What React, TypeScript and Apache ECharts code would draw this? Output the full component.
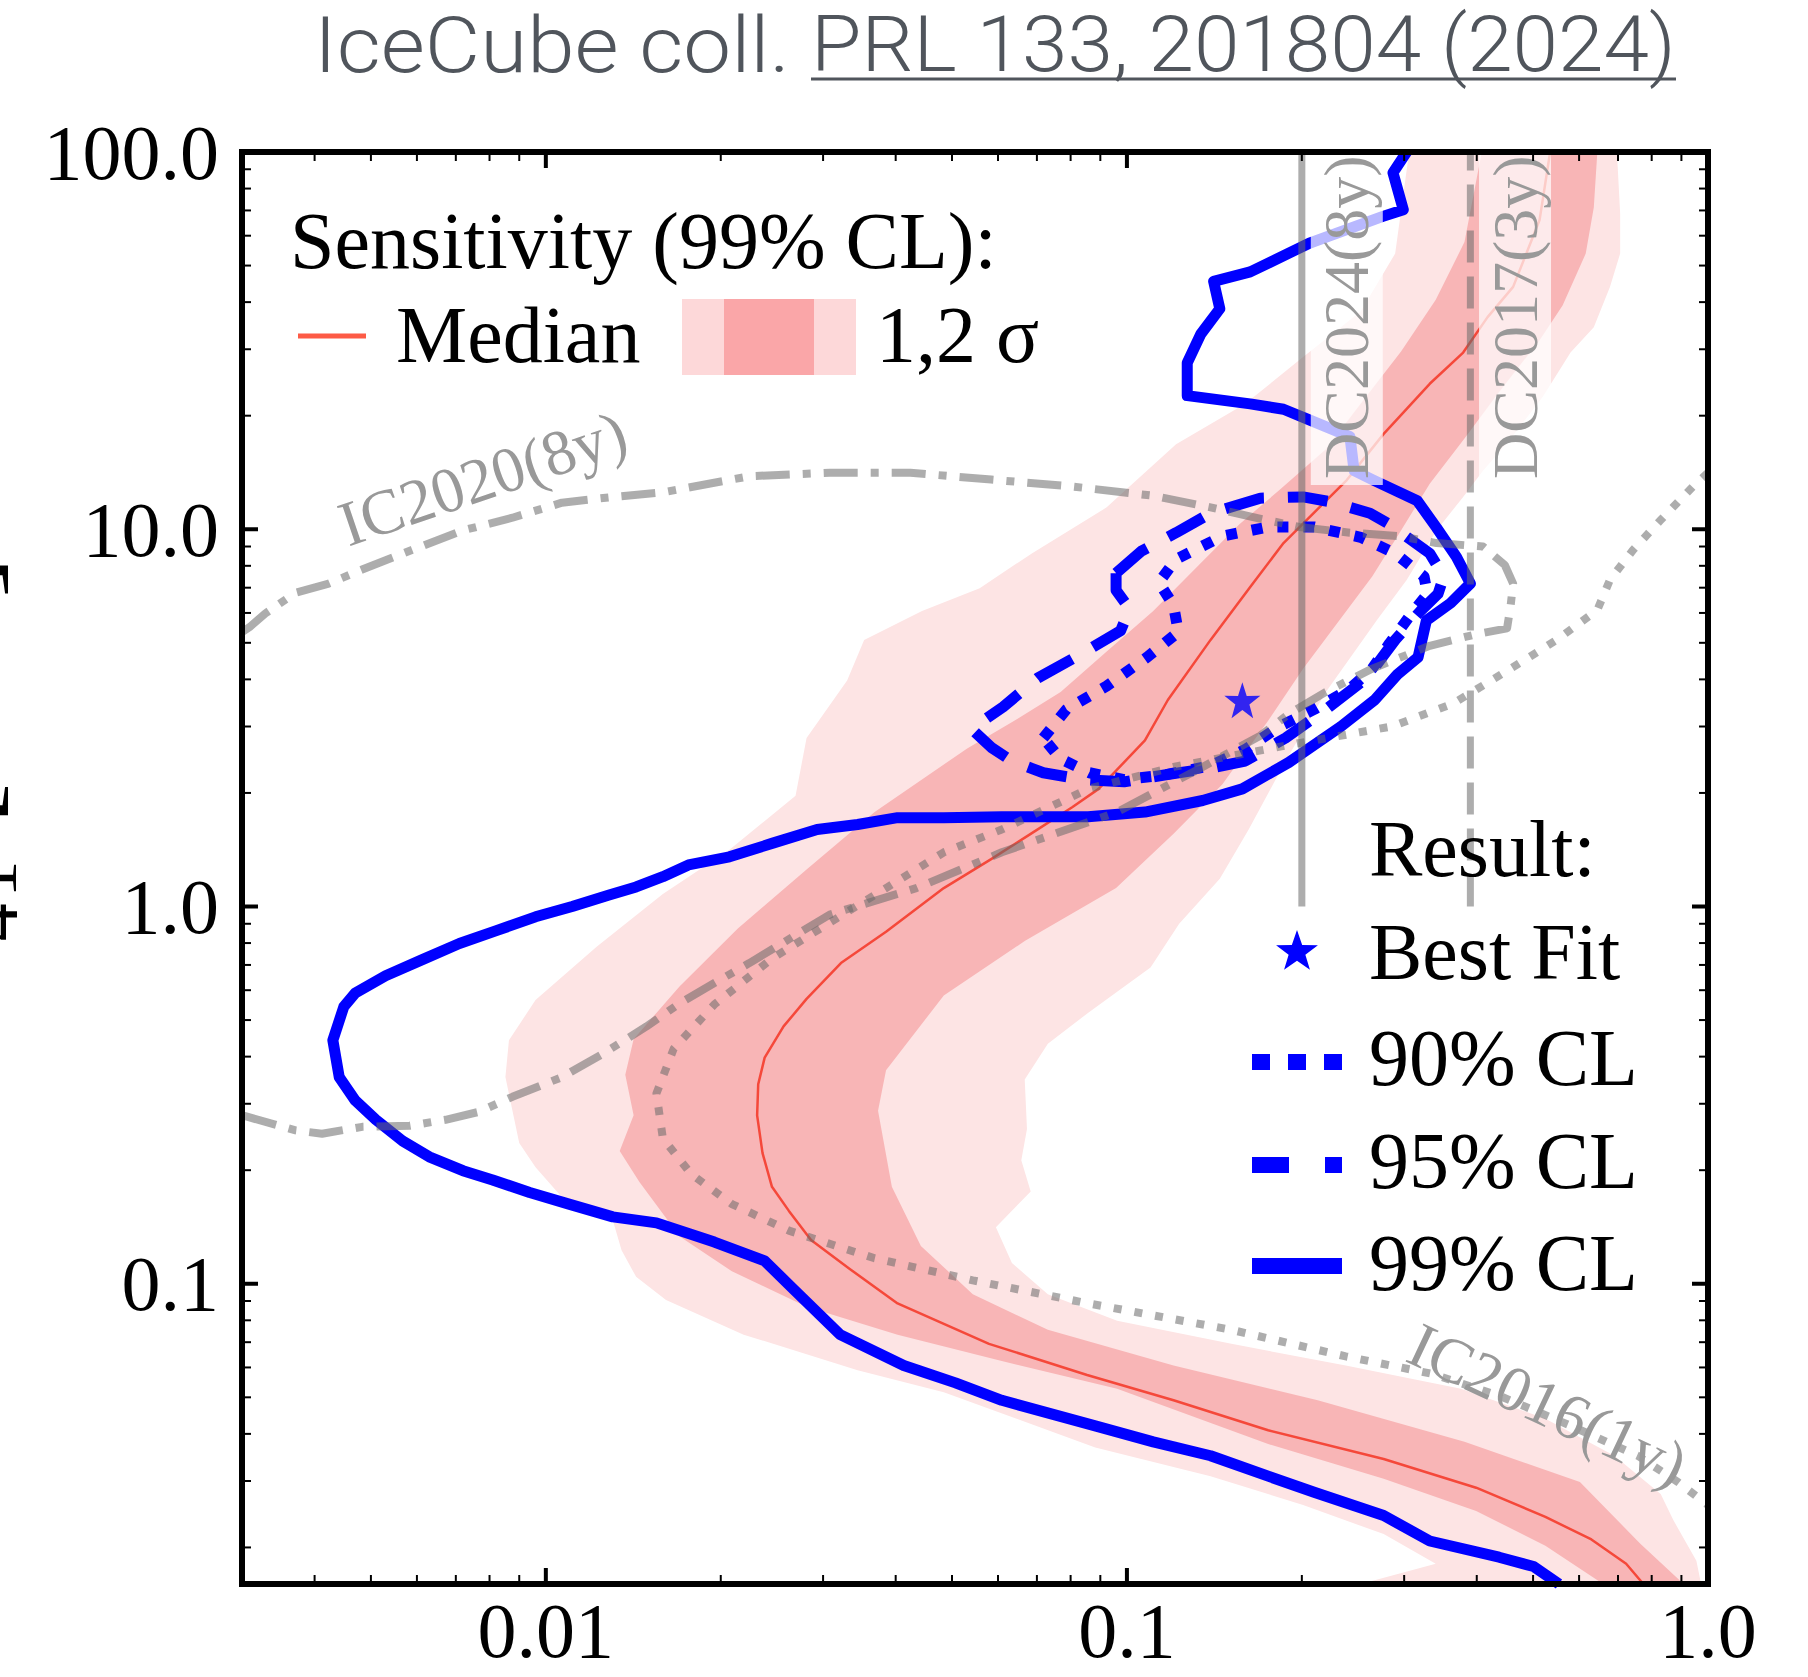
import React, { useEffect, useRef } from "react";
import * as echarts from "echarts";

const CANVAS_W = 1808;
const CANVAS_H = 1677;
const GRID = { left: 242, top: 152, width: 1466, height: 1432 };

// axis ranges and tick labels
const X_RANGE = [0.003, 1];
const Y_RANGE = [0.016, 100];
const X_MAJOR = [0.01, 0.1, 1];
const X_MAJOR_LABELS = ["0.01", "0.1", "1.0"];
const Y_MAJOR = [0.1, 1, 10, 100];
const Y_MAJOR_LABELS = ["0.1", "1.0", "10.0", "100.0"];

// Result contours  [x, dm2 y]
const cl99 = [
  [0.303, 100], [0.287, 88.1], [0.299, 70.3], [0.275, 67.4], [0.206, 57.3], [0.163, 48.1], [0.141, 45.4],
  [0.1445, 38.4], [0.134, 32.9], [0.127, 27.6], [0.127, 22.6], [0.163, 21.5], [0.186, 20.8], [0.206, 19.5],
  [0.242, 17.6], [0.246, 14.3], [0.2655, 13.5], [0.316, 11.9], [0.341, 10.1], [0.369, 8.45], [0.39, 7.18],
  [0.3606, 6.37], [0.3276, 5.73], [0.317, 4.58], [0.292, 4.12], [0.267, 3.53], [0.2335, 3.0], [0.19, 2.41],
  [0.158, 2.05], [0.135, 1.91], [0.1074, 1.78], [0.0858, 1.73], [0.0609, 1.73], [0.0484, 1.72], [0.0403, 1.72],
  [0.0344, 1.65], [0.0293, 1.6], [0.0245, 1.47], [0.0207, 1.354], [0.0176, 1.289], [0.0159, 1.2], [0.0143, 1.127],
  [0.01285, 1.073], [0.0111, 1.0], [0.0096, 0.939], [0.00822, 0.863], [0.0071, 0.798], [0.00613, 0.723],
  [0.0053, 0.655], [0.0047, 0.59], [0.00449, 0.542], [0.0043, 0.442], [0.00441, 0.353], [0.0047, 0.306],
  [0.0051, 0.272], [0.00567, 0.239], [0.0063, 0.217], [0.0072, 0.1994], [0.0081, 0.1884], [0.00938, 0.1745],
  [0.01096, 0.1626], [0.01304, 0.1504], [0.0155, 0.145], [0.0195, 0.129], [0.0238, 0.115], [0.0267, 0.0966],
  [0.0321, 0.0733], [0.0413, 0.0607], [0.0507, 0.0546], [0.0609, 0.0491], [0.0882, 0.042], [0.111, 0.0381],
  [0.1393, 0.035], [0.175, 0.0309], [0.21, 0.028], [0.2766, 0.0243], [0.332, 0.0208], [0.437, 0.01884],
  [0.501, 0.0178], [0.554, 0.016],
];
const cl95 = [
  [0.0958, 7.65], [0.1059, 8.75], [0.1215, 9.79], [0.1393, 11.03], [0.1696, 12.09], [0.201, 12.18],
  [0.2232, 11.84], [0.262, 11.03], [0.283, 10.3], [0.332, 8.63], [0.351, 7.49], [0.343, 6.74], [0.32, 6.07],
  [0.2895, 5.09], [0.2704, 4.42], [0.2525, 3.92], [0.22, 3.33], [0.1875, 2.796], [0.1598, 2.43], [0.1393, 2.328],
  [0.116, 2.232], [0.0989, 2.14], [0.0842, 2.17], [0.0718, 2.262], [0.0634, 2.43], [0.0584, 2.642], [0.054, 2.958],
  [0.0612, 3.38], [0.0702, 4.03], [0.0842, 4.71], [0.0975, 5.38], [0.1011, 6.15], [0.0958, 6.89],
];
const cl90 = [
  [0.0718, 2.796], [0.0787, 3.33], [0.0923, 3.84], [0.1083, 4.58], [0.1226, 5.34], [0.1203, 6.28], [0.1135, 7.23],
  [0.1215, 8.33], [0.146, 9.59], [0.175, 10.14], [0.21, 10.14], [0.2525, 9.52], [0.2895, 8.63], [0.3246, 7.49],
  [0.329, 6.74], [0.306, 5.86], [0.283, 4.98], [0.2643, 4.27], [0.241, 3.76], [0.21, 3.33], [0.183, 3.0],
  [0.1598, 2.606], [0.1393, 2.36], [0.116, 2.232], [0.0989, 2.17], [0.0862, 2.262], [0.0769, 2.462],
];
const bestFit = [0.158, 3.52];

// Sensitivity
const median = [
  [0.774, 0.016], [0.723, 0.0181], [0.63, 0.021], [0.525, 0.0241], [0.399, 0.0288], [0.2766, 0.0343],
  [0.175, 0.0409], [0.1203, 0.0491], [0.0854, 0.0573], [0.0579, 0.0693], [0.0403, 0.0887], [0.0333, 0.1096],
  [0.0286, 0.1307], [0.0262, 0.156], [0.0245, 0.1807], [0.0236, 0.222], [0.0231, 0.2795], [0.0232, 0.338],
  [0.0238, 0.3975], [0.02565, 0.481], [0.0281, 0.569], [0.0322, 0.708], [0.0385, 0.857], [0.0484, 1.119],
  [0.0584, 1.335], [0.0683, 1.558], [0.0805, 1.832], [0.0894, 2.05], [0.1074, 2.755], [0.1176, 3.527],
  [0.1393, 5.09], [0.163, 7.03], [0.186, 9.19], [0.239, 13.5], [0.2766, 17.9], [0.332, 24.3], [0.379, 29.4],
  [0.4175, 36.5], [0.462, 43.9], [0.513, 66.0], [0.535, 100],
];
const sigma1Left = [
  [0.66, 0.016], [0.525, 0.0202], [0.399, 0.025], [0.2766, 0.0304], [0.175, 0.0376], [0.0962, 0.0527],
  [0.0609, 0.0624], [0.0403, 0.0733], [0.0281, 0.0869], [0.0209, 0.108], [0.017, 0.1334], [0.01449, 0.186],
  [0.0134, 0.225], [0.01416, 0.2795], [0.0137, 0.358], [0.01416, 0.445], [0.017, 0.615], [0.0214, 0.875],
  [0.0281, 1.253], [0.0368, 1.78], [0.0531, 2.624], [0.064, 3.108], [0.0769, 3.706], [0.0923, 4.74],
  [0.111, 6.07], [0.133, 8.04], [0.156, 10.3], [0.183, 12.7], [0.22, 16.3], [0.2525, 21.5], [0.2963, 29.6],
  [0.34, 40.6], [0.381, 57.7], [0.408, 100],
];
const sigma1Right = [
  [0.645, 100], [0.636, 71.3], [0.616, 53.8], [0.562, 39.2], [0.513, 31.7], [0.437, 23.1], [0.381, 17.4],
  [0.332, 13.2], [0.2963, 9.93], [0.2643, 7.49], [0.2304, 5.65], [0.201, 4.27], [0.175, 3.108], [0.146, 2.11],
  [0.1203, 1.558], [0.0958, 1.119], [0.0667, 0.81], [0.0484, 0.581], [0.0385, 0.368], [0.0373, 0.2875],
  [0.0394, 0.1807], [0.0442, 0.126], [0.0543, 0.0938], [0.0731, 0.0755], [0.1203, 0.0607], [0.213, 0.0491],
  [0.381, 0.0381], [0.602, 0.0298], [0.764, 0.0205], [0.908, 0.016],
];
const sigma2Left = [
  [0.2525, 0.016], [0.34, 0.0181], [0.2766, 0.0217], [0.201, 0.0259], [0.1393, 0.0309], [0.0882, 0.0368],
  [0.0484, 0.0516], [0.0344, 0.059], [0.0219, 0.0733], [0.0161, 0.0906], [0.0143, 0.1043], [0.0135, 0.1227],
  [0.01304, 0.1473], [0.01066, 0.1696], [0.0096, 0.2037], [0.009, 0.236], [0.00852, 0.353], [0.00864, 0.442],
  [0.0096, 0.565], [0.01223, 0.782], [0.0159, 1.08], [0.0207, 1.413], [0.0269, 1.966], [0.0281, 2.796],
  [0.033, 3.975], [0.0353, 5.09], [0.0444, 6.07], [0.0558, 6.98], [0.0686, 8.63], [0.0923, 11.43],
  [0.1215, 16.8], [0.1598, 21.5], [0.201, 28.6], [0.2525, 37.8], [0.2895, 53.8], [0.306, 100],
];
const sigma2Right = [
  [0.697, 100], [0.706, 68.8], [0.706, 53.8], [0.678, 43.9], [0.636, 34.3], [0.58, 29.4], [0.52, 22.5],
  [0.455, 17.2], [0.41, 14.3], [0.379, 12.18], [0.341, 9.93], [0.303, 7.34], [0.269, 5.73], [0.22, 3.706],
  [0.1875, 2.43], [0.162, 1.6], [0.1445, 1.184], [0.123, 0.9], [0.1098, 0.689], [0.0858, 0.523],
  [0.0731, 0.4325], [0.0667, 0.3477], [0.0673, 0.257], [0.0658, 0.2125], [0.0683, 0.1757], [0.0595, 0.1412],
  [0.0634, 0.1135], [0.0731, 0.0938], [0.0962, 0.0798], [0.1513, 0.0693], [0.238, 0.0607], [0.3758, 0.0527],
  [0.525, 0.0439], [0.69, 0.035], [0.829, 0.0277], [0.872, 0.0236], [0.955, 0.01845], [0.973, 0.016],
];

// Previous results
const ic2020 = [
  [0.003, 5.34], [0.00309, 5.5], [0.00329, 5.98], [0.00371, 6.79], [0.00423, 7.18], [0.00483, 7.82],
  [0.00588, 8.81], [0.0072, 9.93], [0.00876, 10.73], [0.01066, 11.76], [0.01304, 12.18], [0.0159, 12.53],
  [0.0224, 13.82], [0.0308, 14.12], [0.0424, 14.12], [0.0584, 13.54], [0.0805, 12.98], [0.111, 12.27],
  [0.1393, 11.43], [0.1634, 10.8], [0.198, 10.14], [0.242, 9.79], [0.295, 9.59], [0.341, 9.19], [0.41, 9.0],
  [0.447, 8.04], [0.462, 7.18], [0.4575, 6.28], [0.451, 5.46], [0.399, 5.27], [0.332, 4.91], [0.2643, 4.27],
  [0.22, 3.706], [0.19, 3.24], [0.1696, 2.835], [0.135, 2.344], [0.0962, 1.78], [0.0609, 1.392], [0.0434, 1.119],
  [0.0308, 0.952], [0.0224, 0.708], [0.0194, 0.624], [0.017, 0.554], [0.0149, 0.481], [0.01251, 0.406],
  [0.01066, 0.353], [0.00876, 0.313], [0.00767, 0.2856], [0.00672, 0.272], [0.00583, 0.2624], [0.00483, 0.2606],
  [0.00412, 0.2498], [0.00371, 0.255], [0.00305, 0.2776], [0.003, 0.2795],
];
const ic2016 = [
  [1.0, 14.12], [0.942, 12.98], [0.829, 10.58], [0.743, 8.81], [0.678, 7.34], [0.645, 6.11], [0.549, 5.09],
  [0.4575, 4.27], [0.364, 3.45], [0.2855, 3.0], [0.19, 2.68], [0.1203, 2.344], [0.0858, 2.05], [0.0609, 1.6],
  [0.0484, 1.392], [0.0385, 1.119], [0.0308, 0.906], [0.0245, 0.728], [0.0195, 0.55], [0.0166, 0.42],
  [0.0155, 0.3196], [0.0159, 0.2428], [0.0178, 0.1952], [0.0209, 0.1626], [0.0262, 0.1383], [0.0368, 0.1168],
  [0.0543, 0.1021], [0.0858, 0.0887], [0.1513, 0.0755], [0.238, 0.0642], [0.335, 0.0577], [0.437, 0.0505],
  [0.575, 0.0423], [0.757, 0.035], [0.888, 0.0298], [1.0, 0.0259],
];
const dc2024 = [[0.2, 1.0], [0.2, 100]];
const dc2017 = [[0.39, 1.0], [0.39, 100]];

const annotations = [
  { text: "DC2024(8y)", x: 0.239, y: 36.5, angle: 90, box: true },
  { text: "DC2017(3y)", x: 0.4655, y: 36.5, angle: 90, box: true },
  { text: "IC2020(8y)", x: 0.00779, y: 13.65, angle: 18.8, box: false },
  { text: "IC2016(1y)", x: 0.53, y: 0.0478, angle: -25.2, box: false },
];

const TITLE_A = "IceCube coll. ";
const TITLE_B = "PRL 133, 201804 (2024)";

const L = (v: number) => Math.log10(v);
const toLog = (pts: number[][]) => pts.map(([x, y]) => [L(x), L(y)]);

function minorTicks(lo: number, hi: number) {
  const out: number[] = [];
  for (let e = Math.floor(L(lo)) - 1; e <= Math.ceil(L(hi)); e++) {
    for (let k = 2; k <= 9; k++) {
      const v = k * Math.pow(10, e);
      if (v >= lo * 0.9999 && v <= hi * 1.0001) out.push(L(v));
    }
  }
  return out;
}

const SERIF = '"Liberation Serif", "DejaVu Serif", serif';
const BLUE = "#0000ff";
const GRAY_LINE = "rgba(105,105,105,0.55)";

export default function App() {
  const ref = useRef<HTMLDivElement>(null);
  useEffect(() => {
    document.body.style.margin = "0";
    const chart = echarts.init(ref.current!, undefined, {
      renderer: "svg",
      width: CANVAS_W,
      height: CANVAS_H,
    });

    const xMinL = L(X_RANGE[0]);
    const yMinL = L(Y_RANGE[0]);
    const xMajorL = X_MAJOR.map(L);
    const yMajorL = Y_MAJOR.map(L);
    const xMinorL = minorTicks(X_RANGE[0], X_RANGE[1]);
    const yMinorL = minorTicks(Y_RANGE[0], Y_RANGE[1]);

    const polySeries = (name: string, pts: number[][], color: string, z: number) => ({
      type: "custom",
      name,
      z,
      silent: true,
      clip: true,
      data: [[0, 0]],
      renderItem: (params: any, api: any) => ({
        type: "polygon",
        shape: { points: pts.map(([x, y]) => api.coord([L(x), L(y)])) },
        style: { fill: color },
      }),
    });

    const lineSeries = (
      name: string,
      pts: number[][],
      color: string,
      width: number,
      type: any,
      z: number,
      closed = false
    ) => ({
      type: "line",
      name,
      z,
      silent: true,
      symbol: "none",
      showSymbol: false,
      clip: true,
      data: toLog(closed ? [...pts, pts[0]] : pts),
      lineStyle: { color, width, type, cap: "butt", join: "round" },
    });

    const STAR = "path://M50,0 L61.8,35.1 L98.9,34.5 L69.1,56.7 L79.4,91.9 L50,70.5 L20.6,91.9 L30.9,56.7 L1.1,34.5 L38.2,35.1 Z";

    // measure title for horizontal fit
    const ctx = document.createElement("canvas").getContext("2d")!;
    ctx.font = "300 78px Roboto";
    const wA = ctx.measureText(TITLE_A).width || 1;
    const wB = ctx.measureText(TITLE_B).width || 1;
    const titleLeft = 314;
    const titleSplit = 811;
    const titleRight = 1676;
    const sA = (titleSplit - titleLeft) / wA;
    const sB = (titleRight - titleSplit) / wB;

    const legendText = (text: string, x: number, y: number) => ({
      type: "text",
      x,
      y,
      z: 50,
      style: {
        text,
        fill: "#000",
        fontSize: 80,
        fontFamily: SERIF,
        align: "left",
        verticalAlign: "middle",
        textAlign: "left",
        textVerticalAlign: "middle",
      },
    });

    const starPoints = (cx: number, cy: number, r: number) => {
      const pts: number[][] = [];
      for (let i = 0; i < 10; i++) {
        const rr = i % 2 === 0 ? r : r * 0.4;
        const a = -Math.PI / 2 + (i * Math.PI) / 5;
        pts.push([cx + rr * Math.cos(a), cy + rr * Math.sin(a)]);
      }
      return pts;
    };

    const option: any = {
      animation: false,
      backgroundColor: "#fff",
      grid: { ...GRID, show: false, containLabel: false, outerBoundsMode: "none" },
      xAxis: {
        type: "value",
        min: xMinL,
        max: L(X_RANGE[1]),
        axisLine: { show: false },
        splitLine: { show: false },
        axisTick: { show: false },
        axisLabel: {
          show: true,
          customValues: xMajorL,
          margin: 14,
          lineHeight: 64,
          color: "#000",
          fontSize: 78,
          fontFamily: SERIF,
          formatter: (v: number) => {
            const i = xMajorL.findIndex((t) => Math.abs(t - v) < 1e-6);
            return i >= 0 ? X_MAJOR_LABELS[i] : "";
          },
        },
      },
      yAxis: {
        type: "value",
        min: yMinL,
        max: L(Y_RANGE[1]),
        axisLine: { show: false },
        splitLine: { show: false },
        axisTick: { show: false },
        axisLabel: {
          show: true,
          customValues: yMajorL,
          margin: 23,
          color: "#000",
          fontSize: 78,
          fontFamily: SERIF,
          formatter: (v: number) => {
            const i = yMajorL.findIndex((t) => Math.abs(t - v) < 1e-6);
            return i >= 0 ? Y_MAJOR_LABELS[i] : "";
          },
        },
      },
      series: [
        polySeries("2 sigma", [...sigma2Left, ...sigma2Right], "#fde4e4", 1),
        polySeries("1 sigma", [...sigma1Left, ...sigma1Right], "#f8b5b6", 2),
        lineSeries("Median", median, "#f5483a", 2.5, "solid", 3),
        lineSeries("99% CL", cl99, BLUE, 11, "solid", 4),
        lineSeries("95% CL", cl95, BLUE, 11, [40, 24], 4, true),
        lineSeries("90% CL", cl90, BLUE, 11, [11, 15], 4, true),
        {
          type: "scatter",
          name: "Best Fit",
          z: 5,
          silent: true,
          symbol: STAR,
          symbolSize: 36,
          itemStyle: { color: BLUE },
          data: [[L(bestFit[0]), L(bestFit[1])]],
        },
        lineSeries("IC2020(8y)", ic2020, GRAY_LINE, 8, [34, 13, 8, 13], 6),
        lineSeries("IC2016(1y)", ic2016, GRAY_LINE, 8, [8, 13], 6),
        lineSeries("DC2024(8y)", dc2024, GRAY_LINE, 7, "solid", 6),
        lineSeries("DC2017(3y)", dc2017, GRAY_LINE, 7, [32, 14], 6),
        {
          type: "custom",
          name: "labels",
          z: 7,
          silent: true,
          clip: true,
          data: [[0, 0]],
          renderItem: (params: any, api: any) => ({
            type: "group",
            children: annotations.map((a) => {
              const p = api.coord([L(a.x), L(a.y)]);
              return {
                type: "text",
                x: p[0],
                y: p[1],
                rotation: (a.angle * Math.PI) / 180,
                style: {
                  text: a.text,
                  fill: "#999999",
                  fontSize: 64,
                  fontFamily: SERIF,
                  align: "center",
                  verticalAlign: "middle",
                  backgroundColor: a.box ? "rgba(255,255,255,0.72)" : "transparent",
                  padding: a.box ? [4, 6] : 0,
                },
              };
            }),
          }),
        },
        {
          type: "custom",
          name: "frame",
          z: 20,
          silent: true,
          clip: false,
          data: [[0, 0]],
          renderItem: (params: any, api: any) => {
            const cs = params.coordSys;
            const left = cs.x;
            const top = cs.y;
            const right = cs.x + cs.width;
            const bottom = cs.y + cs.height;
            const els: any[] = [];
            const tick = (x1: number, y1: number, x2: number, y2: number, w: number) =>
              els.push({ type: "line", shape: { x1, y1, x2, y2 }, style: { stroke: "#000", lineWidth: w } });
            const MAJ = 16;
            const MIN = 9;
            xMajorL.forEach((v) => {
              const px = api.coord([v, yMinL])[0];
              tick(px, bottom, px, bottom - MAJ, 4);
              tick(px, top, px, top + MAJ, 4);
            });
            xMinorL.forEach((v) => {
              const px = api.coord([v, yMinL])[0];
              tick(px, bottom, px, bottom - MIN, 2);
              tick(px, top, px, top + MIN, 2);
            });
            yMajorL.forEach((v) => {
              const py = api.coord([xMinL, v])[1];
              tick(left, py, left + MAJ, py, 4);
              tick(right, py, right - MAJ, py, 4);
            });
            yMinorL.forEach((v) => {
              const py = api.coord([xMinL, v])[1];
              tick(left, py, left + MIN, py, 2);
              tick(right, py, right - MIN, py, 2);
            });
            els.push({
              type: "rect",
              shape: { x: left, y: top, width: cs.width, height: cs.height },
              style: { fill: "none", stroke: "#000", lineWidth: 6 },
            });
            return { type: "group", children: els };
          },
        },
      ],
      graphic: {
        elements: [
          // title
          {
            type: "text",
            x: titleLeft,
            y: 45,
            scaleX: sA,
            z: 50,
            style: {
              text: TITLE_A,
              fill: "#50555c",
              fontSize: 78,
              fontWeight: 300,
              fontFamily: "Roboto",
              align: "left",
              verticalAlign: "middle",
              textAlign: "left",
              textVerticalAlign: "middle",
            },
          },
          {
            type: "text",
            x: titleSplit,
            y: 45,
            scaleX: sB,
            z: 50,
            style: {
              text: TITLE_B,
              fill: "#50555c",
              fontSize: 78,
              fontWeight: 300,
              fontFamily: "Roboto",
              align: "left",
              verticalAlign: "middle",
              textAlign: "left",
              textVerticalAlign: "middle",
            },
          },
          {
            type: "line",
            z: 50,
            shape: { x1: titleSplit, y1: 79, x2: titleRight, y2: 79 },
            style: { stroke: "#50555c", lineWidth: 3 },
          },
          // cut-off y-axis title
          {
            type: "text",
            x: -52,
            y: 556,
            rotation: Math.PI / 2,
            z: 50,
            style: {
              text: "Δm²₄₁ [eV²]",
              fill: "#000",
              fontSize: 126,
              fontFamily: SERIF,
              align: "right",
              verticalAlign: "middle",
              textAlign: "right",
              textVerticalAlign: "middle",
            },
          },
          // Sensitivity legend
          legendText("Sensitivity (99% CL):", 290, 241),
          {
            type: "line",
            z: 50,
            shape: { x1: 298, y1: 336, x2: 366, y2: 336 },
            style: { stroke: "#fd5b46", lineWidth: 5 },
          },
          legendText("Median", 396, 335),
          { type: "rect", z: 50, shape: { x: 682, y: 299, width: 174, height: 76 }, style: { fill: "#fdd8d9" } },
          { type: "rect", z: 51, shape: { x: 724, y: 299, width: 90, height: 76 }, style: { fill: "#faa6a8" } },
          legendText("1,2 σ", 876, 335),
          // Result legend
          legendText("Result:", 1369, 849),
          { type: "polygon", z: 50, shape: { points: starPoints(1297, 952, 22) }, style: { fill: BLUE } },
          legendText("Best Fit", 1369, 952),
          {
            type: "line",
            z: 50,
            shape: { x1: 1252, y1: 1062, x2: 1342, y2: 1062 },
            style: { stroke: BLUE, lineWidth: 16, lineDash: [18, 18] },
          },
          legendText("90% CL", 1369, 1058),
          {
            type: "line",
            z: 50,
            shape: { x1: 1252, y1: 1165, x2: 1342, y2: 1165 },
            style: { stroke: BLUE, lineWidth: 16, lineDash: [37, 36] },
          },
          legendText("95% CL", 1369, 1161),
          {
            type: "line",
            z: 50,
            shape: { x1: 1252, y1: 1266, x2: 1342, y2: 1266 },
            style: { stroke: BLUE, lineWidth: 16 },
          },
          legendText("99% CL", 1369, 1263),
        ],
      },
    };

    chart.setOption(option);
    return () => chart.dispose();
  }, []);

  return <div ref={ref} style={{ width: CANVAS_W, height: CANVAS_H }} />;
}
